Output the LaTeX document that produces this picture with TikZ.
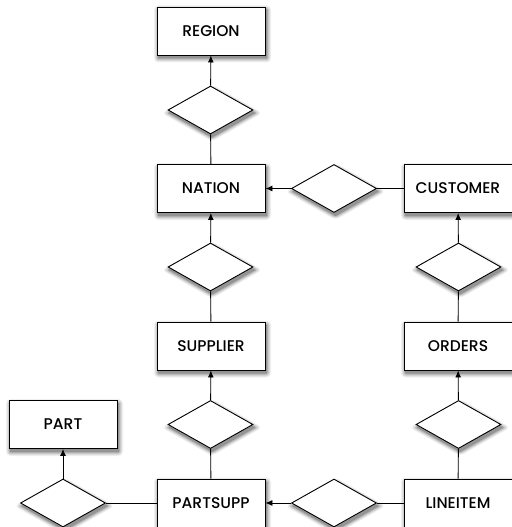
\documentclass[tikz,border=0pt]{standalone}
\usepackage{fontspec}
\setmainfont{Poppins}
\newfontfamily\labelfont{Poppins Medium}
\usetikzlibrary{arrows.meta,shapes.geometric}
% soft drop shadow behind a box or a diamond, built from stacked grey layers
\newcommand\boxshade[2]{%
  \foreach \e/\g in {4.5/6,3.5/12,2.5/20,1.5/30,0.5/42}{%
    \fill[black!\g,rounded corners=\e pt] (#1-54-\e+1.5,#2-24-\e+3) rectangle (#1+54+\e+1.5,#2+24+\e+3);}}
\newcommand\diamshade[2]{%
  \foreach \e/\g in {4.5/6,3.5/12,2.5/20,1.5/30,0.5/42}{%
    \fill[black!\g,rounded corners=\e pt] (#1-42.5-1.77*\e+1.5,#2+3) -- (#1+1.5,#2-24-\e+3) -- (#1+42.5+1.77*\e+1.5,#2+3) -- (#1+1.5,#2+24+\e+3) -- cycle;}}
\begin{document}
\begin{tikzpicture}[x=1pt,y=-1pt,
  entity/.style={draw=black,line width=0.9pt,fill=white,minimum width=108pt,minimum height=48pt,inner sep=0pt,font=\labelfont\fontsize{15.5}{17}\selectfont},
  relation/.style={draw=black,line width=0.9pt,fill=white,diamond,minimum width=85pt,minimum height=48pt,inner sep=0pt,aspect=1.77},
  link/.style={line width=0.9pt},
  ref/.style={line width=0.9pt,-{Latex[length=7pt,width=6pt]}}]
\useasboundingbox (0,0) rectangle (511,527);
% shadows
\boxshade{211}{31}\boxshade{211}{188.5}\boxshade{458}{188.5}
\boxshade{211}{346}\boxshade{458}{346}\boxshade{63}{424.5}
\boxshade{211}{503}\boxshade{458}{503}
\diamshade{210.5}{110}\diamshade{334}{188.5}\diamshade{210.5}{267}
\diamshade{458.5}{267}\diamshade{210.5}{424.5}\diamshade{458.5}{424.5}
\diamshade{63}{503}\diamshade{334}{503}
% entities
\node[entity] (region)   at (211,31)  {REGION};
\node[entity] (nation)   at (211,188.5) {NATION};
\node[entity] (customer) at (458,188.5) {CUSTOMER};
\node[entity] (supplier) at (211,346) {SUPPLIER};
\node[entity] (orders)   at (458,346) {ORDERS};
\node[entity] (part)     at (63,424.5) {PART};
\node[entity] (partsupp) at (211,503) {PARTSUPP};
\node[entity] (lineitem) at (458,503) {LINEITEM};
% relationships
\node[relation] (rn) at (210.5,110) {};
\node[relation] (nc) at (334,188.5) {};
\node[relation] (ns) at (210.5,267) {};
\node[relation] (co) at (458.5,267) {};
\node[relation] (sp) at (210.5,424.5) {};
\node[relation] (ol) at (458.5,424.5) {};
\node[relation] (pp) at (63,503) {};
\node[relation] (pl) at (334,503) {};
% connectors
\draw[link] (nation) -- (rn); \draw[ref] (rn) -- (region);
\draw[link] (customer) -- (nc); \draw[ref] (nc) -- (nation);
\draw[link] (supplier) -- (ns); \draw[ref] (ns) -- (nation);
\draw[link] (orders) -- (co); \draw[ref] (co) -- (customer);
\draw[link] (partsupp) -- (sp); \draw[ref] (sp) -- (supplier);
\draw[link] (lineitem) -- (ol); \draw[ref] (ol) -- (orders);
\draw[link] (partsupp) -- (pp); \draw[ref] (pp) -- (part);
\draw[link] (lineitem) -- (pl); \draw[ref] (pl) -- (partsupp);
\end{tikzpicture}
\end{document}
